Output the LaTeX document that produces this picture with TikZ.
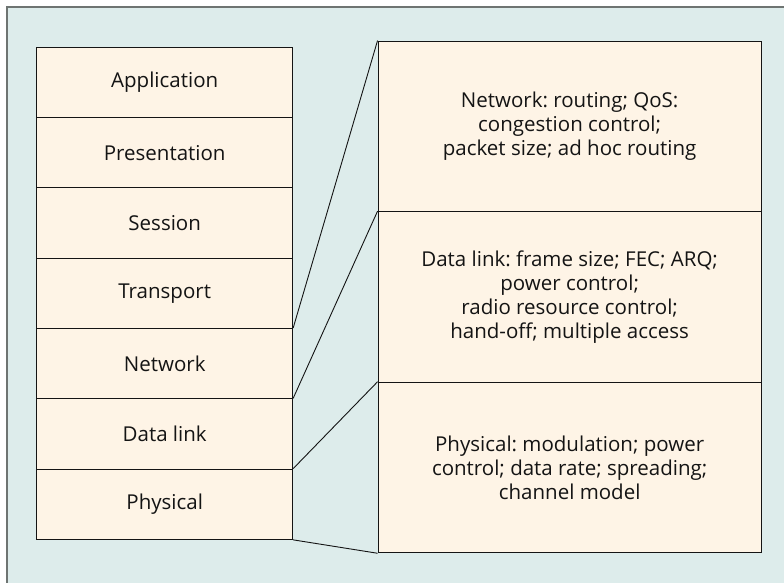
\documentclass[tikz,border=0pt]{standalone}
\usepackage{fontspec}
\setmainfont{Open Sans}
\frenchspacing
\definecolor{panelbg}{HTML}{DDECEB}
\definecolor{boxfill}{HTML}{FEF4E6}
\definecolor{framegray}{HTML}{6E7472}
\definecolor{ink}{HTML}{141414}
\tikzset{
  layerbox/.style={draw=ink, fill=boxfill, line width=0.9pt, inner sep=0pt,
    minimum width=256pt, minimum height=70.3pt,
    font=\fontsize{20.5}{24}\selectfont\frenchspacing, text=ink},
  detailbox/.style={draw=ink, fill=boxfill, line width=0.9pt, inner sep=0pt,
    minimum width=383.3pt, minimum height=170.6pt, align=center,
    font=\fontsize{20.5}{24}\selectfont\frenchspacing, text=ink},
  link/.style={draw=ink, line width=0.9pt}
}
\begin{document}
\begin{tikzpicture}[x=1pt, y=-1pt]
  \useasboundingbox (0,0) rectangle (784,583);
  % panel with a frame on its top and left sides
  \fill[white] (0,0) rectangle (784,583);
  \fill[panelbg] (7,7) rectangle (784,583);
  \draw[framegray, line width=1.8pt] (7,583) -- (7,7) -- (784,7);

  % OSI layer stack
  \node[layerbox] (application)  at (164.7, 82.45)  {Application};
  \node[layerbox] (presentation) at (164.7, 152.75) {Presentation};
  \node[layerbox] (session)      at (164.7, 223.05) {Session};
  \node[layerbox] (transport)    at (164.7, 293.35) {Transport};
  \node[layerbox] (network)      at (164.7, 363.65) {Network};
  \node[layerbox] (datalink)     at (164.7, 433.95) {Data link};
  \node[layerbox] (physical)     at (164.7, 504.25) {Physical};

  % expanded descriptions of the lower three layers
  \node[detailbox] (netbox) at (569.65, 126.3)
    {Network: routing; QoS:\\congestion control;\\packet size; ad hoc routing};
  \node[detailbox] (dlbox) at (569.65, 296.9)
    {Data link: frame size; FEC; ARQ;\\power control;\\radio resource control;\\hand-off; multiple access};
  \node[detailbox] (phybox) at (569.65, 467.5)
    {Physical: modulation; power\\control; data rate; spreading;\\channel model};

  % fan lines from the stack to the description boxes
  \draw[link] (network.north east)  -- (netbox.north west);
  \draw[link] (datalink.north east) -- (dlbox.north west);
  \draw[link] (physical.north east) -- (phybox.north west);
  \draw[link] (physical.south east) -- (phybox.south west);
\end{tikzpicture}
\end{document}
